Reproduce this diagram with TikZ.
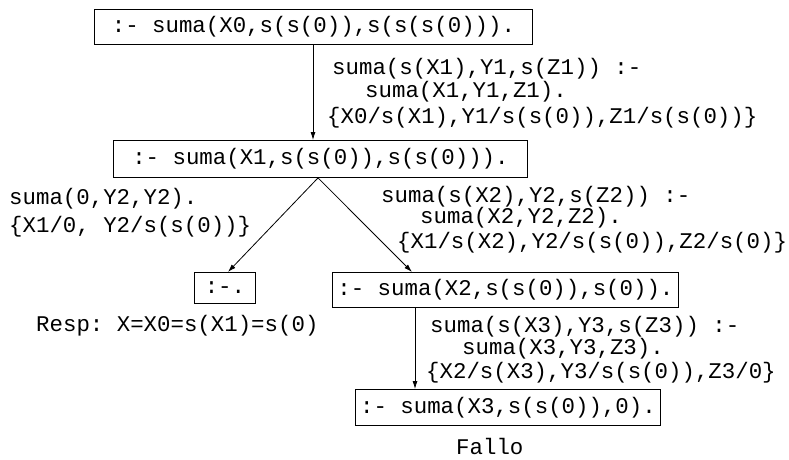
\documentclass[tikz,border=0pt]{standalone}
\usepackage{fontspec}
\setmonofont{Liberation Mono}
\usetikzlibrary{arrows.meta,calc}
\begin{document}
\begin{tikzpicture}[x=1pt,y=-1pt,
  every node/.style={font=\ttfamily\fontsize{22.4}{25}\selectfont},
  goal/.style={draw,line width=0.9pt,inner sep=0pt,anchor=north west},
  lbl/.style={inner sep=0pt,anchor=west},
  conn/.style={line width=0.8pt,-{Latex[length=8pt,width=5pt]}}]
\useasboundingbox (0,0) rectangle (789,459);
% goals
\node[goal,minimum width=438,minimum height=35] (b1) at (94,9) {:- suma(X0,s(s(0)),s(s(s(0))).};
\node[goal,minimum width=414,minimum height=37] (b2) at (113,140) {:- suma(X1,s(s(0)),s(s(0))).};
\node[goal,minimum width=61,minimum height=31] (b5) at (194,272) {:-.};
\node[goal,minimum width=346,minimum height=35] (b3) at (332,272) {:- suma(X2,s(s(0)),s(0)).};
\node[goal,minimum width=305,minimum height=36] (b4) at (355,389) {:- suma(X3,s(s(0)),0).};
% connectors
\coordinate (c1) at (313,0);
\coordinate (c2) at (318,0);
\coordinate (c3) at (415,0);
\draw[conn] (b1.south -| c1) -- (b2.north -| c1);
\draw[conn] (b2.south -| c2) -- ($(b5.north)+(3,0)$);
\draw[conn] (b2.south -| c2) -- ($(b3.north west)+(80,0)$);
\draw[conn] (b3.south -| c3) -- (b4.north -| c3);
% labels
\node[lbl] (t1) at (332,69) {suma(s(X1),Y1,s(Z1)) :-};
\node[lbl] (t2) at (365,92) {suma(X1,Y1,Z1).};
\node[lbl] (t3) at (327,118) {\{X0/s(X1),Y1/s(s(0)),Z1/s(s(0))\}};
\node[lbl] (l1) at (9,199) {suma(0,Y2,Y2).};
\node[lbl] (l2) at (9,227) {\{X1/0, Y2/s(s(0))\}};
\node[lbl] (r1) at (381,197) {suma(s(X2),Y2,s(Z2)) :-};
\node[lbl] (r2) at (420,218) {suma(X2,Y2,Z2).};
\node[lbl] (r3) at (397,243) {\{X1/s(X2),Y2/s(s(0)),Z2/s(0)\}};
\node[lbl] (resp) at (36,326) {Resp: X=X0=s(X1)=s(0)};
\node[lbl] (u1) at (430,327) {suma(s(X3),Y3,s(Z3)) :-};
\node[lbl] (u2) at (462,349) {suma(X3,Y3,Z3).};
\node[lbl] (u3) at (426,373) {\{X2/s(X3),Y3/s(s(0)),Z3/0\}};
\node[lbl] (fallo) at (456,446) {Fallo};
\end{tikzpicture}
\end{document}
